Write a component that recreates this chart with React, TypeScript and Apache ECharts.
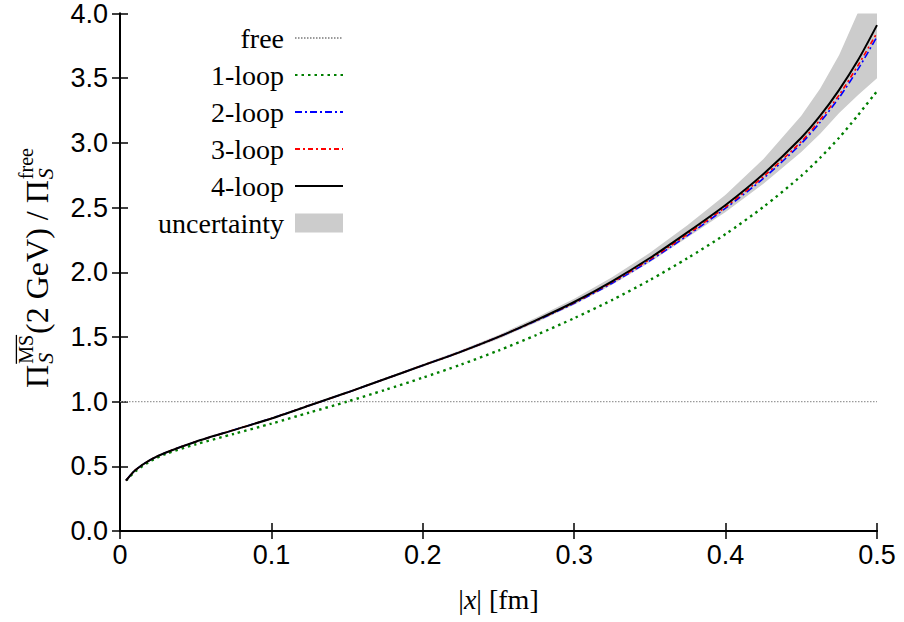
import React, { useEffect, useRef } from 'react';
import * as echarts from 'echarts';

// |x| in fm
const xs = [0.004, 0.01, 0.02, 0.03, 0.05, 0.075, 0.1, 0.125, 0.15, 0.175, 0.2, 0.225, 0.25, 0.275, 0.3, 0.325, 0.35, 0.375, 0.4, 0.425, 0.45, 0.4625, 0.475, 0.4875, 0.5];
const loop1 = [0.39, 0.46, 0.54, 0.595, 0.67, 0.75, 0.83, 0.915, 1.00, 1.09, 1.185, 1.285, 1.395, 1.515, 1.645, 1.785, 1.94, 2.11, 2.295, 2.505, 2.745, 2.885, 3.04, 3.215, 3.40];
const loop2 = [0.39, 0.47, 0.55, 0.605, 0.69, 0.78, 0.87, 0.97, 1.07, 1.175, 1.28, 1.385, 1.50, 1.625, 1.76, 1.915, 2.09, 2.285, 2.495, 2.725, 2.995, 3.16, 3.35, 3.57, 3.82];
const loop3 = [0.39, 0.47, 0.55, 0.605, 0.69, 0.78, 0.87, 0.97, 1.07, 1.175, 1.28, 1.385, 1.50, 1.628, 1.765, 1.922, 2.10, 2.295, 2.505, 2.74, 3.01, 3.18, 3.37, 3.60, 3.85];
const loop4 = [0.39, 0.47, 0.55, 0.605, 0.69, 0.78, 0.87, 0.97, 1.07, 1.175, 1.28, 1.385, 1.50, 1.63, 1.77, 1.93, 2.11, 2.31, 2.52, 2.76, 3.04, 3.21, 3.41, 3.64, 3.91];
const bandUpper = [0.39, 0.47, 0.55, 0.605, 0.692, 0.783, 0.874, 0.975, 1.076, 1.183, 1.29, 1.397, 1.515, 1.65, 1.795, 1.962, 2.15, 2.365, 2.60, 2.875, 3.21, 3.42, 3.68, 4.01, 4.41];
const bandLower = [0.39, 0.47, 0.55, 0.605, 0.688, 0.777, 0.866, 0.965, 1.064, 1.167, 1.27, 1.373, 1.485, 1.612, 1.748, 1.903, 2.078, 2.27, 2.465, 2.685, 2.93, 3.07, 3.23, 3.37, 3.50];
const freeX = [0, 0.5];
const freeY = [1.0, 1.0];

const SERIF = '"Liberation Serif", "Times New Roman", serif';
const SANS = '"Liberation Sans", Arial, sans-serif';

function measure(text: string, font: string): number {
  const ctx = document.createElement('canvas').getContext('2d');
  if (!ctx) return text.length * 10;
  ctx.font = font;
  return ctx.measureText(text).width;
}

function buildYTitle() {
  const F = 32, F2 = 22, F3 = 20;
  const mid = (baseline: number, size: number) => baseline - 0.34 * size;
  const els: any[] = [];
  const txt = (s: string, x: number, baseline: number, size: number, italic = false) => {
    els.push({
      type: 'text', x, y: mid(baseline, size),
      style: { text: s, fontFamily: SERIF, fontSize: size, fontStyle: italic ? 'italic' : 'normal', fill: '#000', align: 'left', verticalAlign: 'middle' },
    });
  };
  const subB = 5, supB = -15;
  const wP = measure('Π', `${F}px ${SERIF}`);
  const wS = measure('S', `italic ${F2}px ${SERIF}`);
  const wMS = measure('MS', `${F3}px ${SERIF}`);
  const wMain = measure('(2 GeV) / Π', `${F}px ${SERIF}`);
  const wFree = measure('free', `${F3}px ${SERIF}`);
  let lx = 0;
  txt('Π', lx, 0, F);
  lx += wP + 1;
  txt('S', lx, subB, F2, true);
  txt('MS', lx, supB, F3);
  const oy = supB - 0.68 * F3 - 3;
  els.push({ type: 'line', shape: { x1: lx, y1: oy, x2: lx + wMS, y2: oy }, style: { stroke: '#000', lineWidth: 1.3 } });
  lx += Math.max(wS, wMS) + 1;
  txt('(2 GeV) / Π', lx, 0, F);
  lx += wMain + 1;
  txt('S', lx, subB, F2, true);
  txt('free', lx, supB, F3);
  const total = lx + Math.max(wS, wFree);
  return { type: 'group', x: 48, y: 268 + total / 2, rotation: Math.PI / 2, children: els };
}

export default function App() {
  const ref = useRef<HTMLDivElement>(null);
  useEffect(() => {
    if (!ref.current) return;
    const chart = echarts.init(ref.current, undefined, { renderer: 'svg' });
    const pairs = (ys: number[]) => xs.map((x, i) => [x, ys[i]]);
    const axisLine = { show: true, lineStyle: { color: '#000', width: 2 } };
    const axisTick = { show: true, inside: true, length: 8, lineStyle: { color: '#000', width: 1.5 } };
    const SM = 0.25;
    const option: any = {
      animation: false,
      backgroundColor: '#fff',
      grid: { left: 120, top: 11, width: 757, height: 520, containLabel: false },
      xAxis: [
        {
          type: 'value', min: 0, max: 0.5, interval: 0.1, position: 'bottom',
          axisLine, axisTick, splitLine: { show: false },
          axisLabel: { fontFamily: SANS, fontSize: 27, color: '#000', margin: 10, formatter: (v: number) => (v === 0 ? '0' : v.toFixed(1)) },
          name: '{n||}{i|x}{n|| [fm]}', nameLocation: 'middle', nameGap: 54,
          nameTextStyle: { rich: { n: { fontFamily: SERIF, fontSize: 28, color: '#000' }, i: { fontFamily: SERIF, fontSize: 28, fontStyle: 'italic', color: '#000' } } },
        },
        { type: 'value', min: 0, max: 0.5, interval: 0.1, position: 'top', axisLine, axisTick, axisLabel: { show: false }, splitLine: { show: false } },
      ],
      yAxis: [
        {
          type: 'value', min: 0, max: 4, interval: 0.5, position: 'left',
          axisLine, axisTick, splitLine: { show: false },
          axisLabel: { fontFamily: SANS, fontSize: 27, color: '#000', margin: 12, formatter: (v: number) => v.toFixed(1) },
        },
        { type: 'value', min: 0, max: 4, interval: 0.5, position: 'right', axisLine, axisTick, axisLabel: { show: false }, splitLine: { show: false } },
      ],
      legend: {
        orient: 'vertical', align: 'right', right: 560, top: 23, padding: 0,
        itemWidth: 48, itemHeight: 19, itemGap: 7,
        itemStyle: { opacity: 0 },
        textStyle: { fontFamily: SERIF, fontSize: 28, color: '#000', lineHeight: 30, padding: [0, 6, 0, 0] },
        data: ['free', '1-loop', '2-loop', '3-loop', '4-loop', { name: 'uncertainty', icon: 'rect', itemStyle: { color: '#cccccc', opacity: 1 } }],
      },
      series: [
        {
          name: 'uncertainty', type: 'custom', clip: true, silent: true,
          itemStyle: { color: '#cccccc' },
          data: xs.map((x, i) => [x, bandLower[i], bandUpper[i]]),
          encode: { x: 0, y: [1, 2] },
          renderItem: (params: any, api: any) => {
            if (params.dataIndex !== 0) return null;
            const top = xs.map((x, i) => api.coord([x, bandUpper[i]]));
            const bot = xs.map((x, i) => api.coord([x, bandLower[i]])).reverse();
            return { type: 'polygon', shape: { points: top.concat(bot) }, style: { fill: '#cccccc', stroke: 'none' } };
          },
        },
        { name: 'free', type: 'line', data: freeX.map((x, i) => [x, freeY[i]]), symbol: 'none', color: '#9a9a9a', lineStyle: { color: '#9a9a9a', width: 1.2, type: [1.5, 1.5] } },
        { name: '1-loop', type: 'line', data: pairs(loop1), symbol: 'none', smooth: SM, color: '#007f00', lineStyle: { color: '#007f00', width: 2.4, type: [2.5, 4] } },
        { name: '2-loop', type: 'line', data: pairs(loop2), symbol: 'none', smooth: SM, color: '#0000ff', lineStyle: { color: '#0000ff', width: 1.6, type: [7, 3, 2, 3] } },
        { name: '3-loop', type: 'line', data: pairs(loop3), symbol: 'none', smooth: SM, color: '#ff0000', lineStyle: { color: '#ff0000', width: 1.6, type: [5, 3, 2, 3] } },
        { name: '4-loop', type: 'line', data: pairs(loop4), symbol: 'none', smooth: SM, color: '#000000', lineStyle: { color: '#000000', width: 2 } },
      ],
      graphic: [buildYTitle()],
    };
    chart.setOption(option);
    return () => chart.dispose();
  }, []);
  return <div ref={ref} style={{ position: 'fixed', left: 0, top: 0, width: 904, height: 622, background: '#fff' }} />;
}
